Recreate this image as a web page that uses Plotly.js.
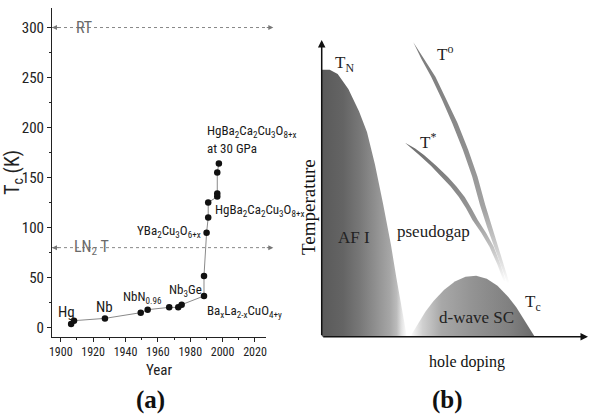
<!DOCTYPE html>
<html><head><meta charset="utf-8">
<script src="https://cdn.plot.ly/plotly-3.0.1.min.js"></script>
<style>html,body{margin:0;padding:0;background:#fff;}#chart{width:589px;height:417px;}</style>
</head><body><div id="chart"></div>
<script>
// ---- Panel (a): Tc vs year ----
const years = [1906.4, 1908.2, 1927.3, 1949.4, 1953.7, 1967.0, 1972.6, 1974.7, 1988.5, 1988.5, 1990.1, 1991.1, 1991.1, 1996.7, 1996.7, 1996.7, 1997.7];
const tcK   = [3.7, 7, 9.3, 15, 18, 20.3, 20.3, 23, 31.7, 51.7, 95, 110, 125, 131, 134, 155, 164];
const refLevels = [300, 80];
const refNames = ['RT', 'LN<sub>2</sub> T'];
const matLabels = ['Hg', 'Nb', 'NbN<sub>0.96</sub>', 'Nb<sub>3</sub>Ge', 'Ba<sub>x</sub>La<sub>2-x</sub>CuO<sub>4+y</sub>', 'YBa<sub>2</sub>Cu<sub>3</sub>O<sub>6+x</sub>', 'HgBa<sub>2</sub>Ca<sub>2</sub>Cu<sub>3</sub>O<sub>8+x</sub>', 'HgBa<sub>2</sub>Ca<sub>2</sub>Cu<sub>3</sub>O<sub>8+x</sub>', 'at 30 GPa'];
const matLabelX = [1903.6, 1927, 1937.2, 1965.6, 1989.1, 1987.9, 1994, 1989.1, 1989.1];
const matLabelY = [16, 20.7, 30, 37, 16, 96, 117, 196, 178.7];

// ---- Panel (b): schematic phase diagram (arbitrary units 0-100) ----
const afiX = [0, 0, 3, 6, 10, 14, 17, 20, 23, 26, 28, 30, 32];
const afiY = [0, 90, 90, 88.5, 83.5, 76, 69, 58, 45, 31, 20, 10, 0];
const scX = [33.2, 36, 39, 42, 46, 50, 54, 58, 62, 66, 70, 73, 76, 78.5, 80];
const scY = [0, 4, 8.5, 12, 15.8, 18.6, 20.2, 20.5, 19.5, 17.2, 13.5, 10, 5.8, 2.5, 0];
const t0LeftX  = [34.4, 37.5, 41.1, 45.1, 49, 53, 56.5, 59.4, 62.1, 64.9, 67.4, 69.7];
const t0RightX = [34.4, 38.5, 42.7, 46.9, 51, 55, 58.5, 61.4, 63.9, 66.5, 68.6, 70.5];
const t0Y      = [99.2, 93.5, 87.6, 80, 72, 63, 54, 44.5, 37, 30, 23.5, 18];
const tsLeftX  = [31.3, 33.9, 36.6, 41.0, 45.2, 48.4, 51.5, 54.2, 56.6, 59.9, 63.0, 65.9, 68.4];
const tsRightX = [31.3, 35.1, 38.4, 43.0, 47.4, 50.6, 53.7, 56.2, 58.6, 61.7, 64.6, 67.1, 69.2];
const tsY      = [65.4, 63.4, 61.2, 57.6, 53.8, 50.6, 47.1, 43.3, 39.3, 35, 30.3, 24.5, 18.5];

const band = (L, R, Y) => ({x: L.concat(R.slice().reverse()), y: Y.concat(Y.slice().reverse())});
const t0 = band(t0LeftX, t0RightX, t0Y);
const ts = band(tsLeftX, tsRightX, tsY);

const SANS = '"Liberation Sans Narrow", "Arial Narrow", "Roboto Condensed", "Liberation Sans", sans-serif';
const SERIF = '"Liberation Serif", "Times New Roman", serif';

const traces = [
  {x: years, y: tcK, xaxis: 'x', yaxis: 'y', mode: 'lines+markers', type: 'scatter',
   line: {color: '#8a8a8a', width: 1}, marker: {color: '#111', size: 6.5}, hoverinfo: 'skip'},
  {x: t0.x, y: t0.y, xaxis: 'x2', yaxis: 'y2', type: 'scatter', mode: 'lines', fill: 'toself',
   line: {width: 0, color: 'rgba(0,0,0,0)'},
   fillgradient: {type: 'vertical', colorscale: [[0,'#ffffff'],[0.1,'#dcdcdc'],[0.3,'#a4a4a4'],[0.6,'#8c8c8c'],[1,'#7c7c7c']]}},
  {x: ts.x, y: ts.y, xaxis: 'x2', yaxis: 'y2', type: 'scatter', mode: 'lines', fill: 'toself',
   line: {width: 0, color: 'rgba(0,0,0,0)'},
   fillgradient: {type: 'vertical', colorscale: [[0,'#ffffff'],[0.18,'#d0d0d0'],[0.45,'#9a9a9a'],[1,'#6e6e6e']]}},
  {x: afiX, y: afiY, xaxis: 'x2', yaxis: 'y2', type: 'scatter', mode: 'lines', fill: 'toself',
   line: {width: 0, color: 'rgba(0,0,0,0)'},
   fillgradient: {type: 'horizontal', colorscale: [[0,'#5a5a5a'],[0.25,'#646464'],[0.45,'#787878'],[0.62,'#8e8e8e'],[0.8,'#a6a6a6'],[0.88,'#bbbbbb'],[0.94,'#e4e4e4'],[1,'#ffffff']]}},
  {x: scX, y: scY, xaxis: 'x2', yaxis: 'y2', type: 'scatter', mode: 'lines', fill: 'toself',
   line: {width: 0, color: 'rgba(0,0,0,0)'},
   fillgradient: {type: 'horizontal', colorscale: [[0,'#ffffff'],[0.1,'#d0d0d0'],[0.25,'#a8a8a8'],[0.5,'#939393'],[0.8,'#808080'],[1,'#6a6a6a']]}}
];

const annotations = [];
matLabels.forEach((t, i) => {
  const anchorRight = (i === 5);
  const center = (i < 2);
  annotations.push({x: matLabelX[i], y: matLabelY[i], xref: 'x', yref: 'y', text: t, showarrow: false,
    xanchor: center ? 'center' : (anchorRight ? 'right' : 'left'), yanchor: 'middle',
    font: {family: SANS, size: (i < 2 ? 15 : 13), color: '#1a1a1a'}});
});
// reference level labels
annotations.push({x: 1914.1, y: refLevels[0], xref: 'x', yref: 'y', text: refNames[0], showarrow: false, xanchor: 'center', yanchor: 'middle', font: {family: SANS, size: 16, color: '#6a6a6a'}});
annotations.push({x: 1907, y: refLevels[1], xref: 'x', yref: 'y', text: refNames[1], showarrow: false, xanchor: 'left', yanchor: 'middle', font: {family: SANS, size: 16, color: '#6a6a6a'}});
// arrowheads on reference lines
refLevels.forEach(v => {
  annotations.push({x: 0.464, y: v, xref: 'paper', yref: 'y', ax: -8, ay: 0, text: '', showarrow: true, arrowhead: 2, arrowsize: 1, arrowwidth: 1, arrowcolor: '#777'});
  annotations.push({x: 0.0883, y: v, xref: 'paper', yref: 'y', ax: 8, ay: 0, text: '', showarrow: true, arrowhead: 2, arrowsize: 1, arrowwidth: 1, arrowcolor: '#777'});
});
// panel b axis arrows
annotations.push({x: 0, y: 100, xref: 'x2', yref: 'y2', ax: 0, ay: 0, axref: 'x2', ayref: 'y2', text: '', showarrow: true, arrowhead: 2, arrowsize: 1, arrowwidth: 1.5, arrowcolor: '#111'});
annotations.push({x: 100, y: 0, xref: 'x2', yref: 'y2', ax: 0, ay: 0, axref: 'x2', ayref: 'y2', text: '', showarrow: true, arrowhead: 2, arrowsize: 1, arrowwidth: 1.5, arrowcolor: '#111'});
// panel b labels
const bLab = [
  {x: 4.4, y: 92, t: 'T<sub>N</sub>', a: 'left'},
  {x: 42.5, y: 95.5, t: 'T<sup>o</sup>', a: 'left'},
  {x: 36.2, y: 66, t: 'T<sup>*</sup>', a: 'left'},
  {x: 12.3, y: 33.3, t: 'AF I', a: 'center'},
  {x: 42, y: 35.6, t: 'pseudogap', a: 'center'},
  {x: 58.3, y: 6.6, t: 'd-wave SC', a: 'center'},
  {x: 75.6, y: 11.5, t: 'T<sub>c</sub>', a: 'left'}
];
bLab.forEach(o => annotations.push({x: o.x, y: o.y, xref: 'x2', yref: 'y2', text: o.t, showarrow: false, xanchor: o.a, yanchor: 'middle', font: {family: SERIF, size: 17, color: '#222'}}));
annotations.push({x: 0.7937, y: 0.1319, xref: 'paper', yref: 'paper', text: 'hole doping', showarrow: false, xanchor: 'center', yanchor: 'middle', font: {family: SERIF, size: 16, color: '#111'}});
annotations.push({x: 0.5246, y: 0.5036, xref: 'paper', yref: 'paper', text: 'Temperature', textangle: -90, showarrow: false, xanchor: 'center', yanchor: 'middle', font: {family: SERIF, size: 19, color: '#111'}});
annotations.push({x: 0.2547, y: 0.041, xref: 'paper', yref: 'paper', text: '<b>(a)</b>', showarrow: false, xanchor: 'center', yanchor: 'middle', font: {family: SERIF, size: 25, color: '#111'}});
annotations.push({x: 0.7606, y: 0.041, xref: 'paper', yref: 'paper', text: '<b>(b)</b>', showarrow: false, xanchor: 'center', yanchor: 'middle', font: {family: SERIF, size: 25, color: '#111'}});

const shapes = refLevels.map(v => ({type: 'line', xref: 'paper', yref: 'y', x0: 0.0883, x1: 0.464, y0: v, y1: v, line: {color: '#888', width: 1, dash: '3px,3px'}}));

const layout = {
  width: 589, height: 417, margin: {l: 0, r: 0, t: 0, b: 0},
  paper_bgcolor: '#fff', plot_bgcolor: 'rgba(0,0,0,0)', showlegend: false,
  xaxis: {domain: [0.0883, 0.4516], range: [1894.6, 2026.8], anchor: 'y', showline: true, linecolor: '#222', linewidth: 1,
    ticks: 'outside', ticklen: 4, tickcolor: '#222', tick0: 1900, dtick: 20, showgrid: false, zeroline: false,
    minor: {dtick: 10, ticks: 'outside', ticklen: 2, tickcolor: '#222'},
    tickfont: {family: SANS, size: 12, color: '#222'},
    title: {text: 'Year', font: {family: SANS, size: 15, color: '#222'}, standoff: 6}},
  yaxis: {domain: [0.1926, 0.9808], range: [-9, 319.5], anchor: 'x', showline: true, linecolor: '#222', linewidth: 1,
    ticks: 'outside', ticklen: 4, tickcolor: '#222', tick0: 0, dtick: 50, showgrid: false, zeroline: false,
    minor: {dtick: 25, ticks: 'outside', ticklen: 2, tickcolor: '#222'},
    tickfont: {family: SANS, size: 15, color: '#222'},
    title: {text: 'T<sub>c</sub> (K)', font: {family: SANS, size: 20, color: '#222'}, standoff: 3}},
  xaxis2: {domain: [0.5462, 0.9983], range: [0, 100], anchor: 'y2', visible: false},
  yaxis2: {domain: [0.1926, 0.9041], range: [0, 100], anchor: 'x2', visible: false},
  annotations: annotations, shapes: shapes
};
Plotly.newPlot('chart', traces, layout, {staticPlot: true, displayModeBar: false});
</script></body></html>
